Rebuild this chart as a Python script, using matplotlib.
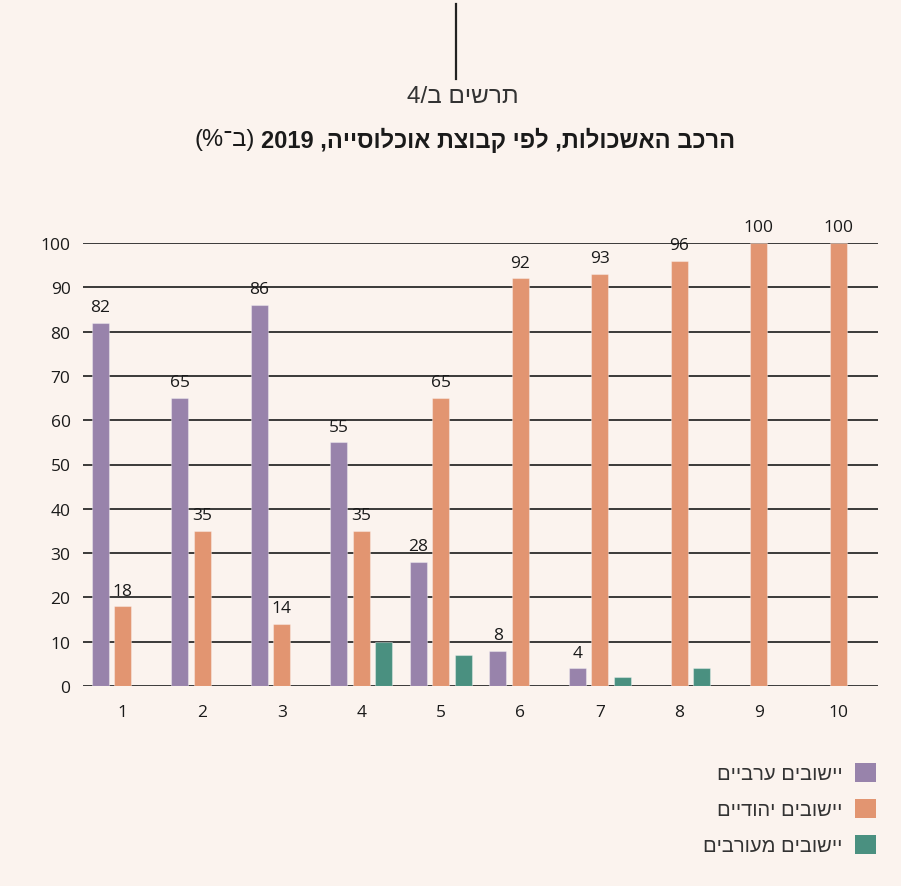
import re
import numpy as np
import matplotlib
matplotlib.use("Agg")
import matplotlib.pyplot as plt
from matplotlib.patches import Patch

# data
groups = [1, 2, 3, 4, 5, 6, 7, 8, 9, 10]
arab = [82, 65, 86, 55, 28, 8, 4, 0, 0, 0]
jewish = [18, 35, 14, 35, 65, 92, 93, 96, 100, 100]
mixed = [0, 0, 0, 10, 7, 0, 2, 4, 0, 0]
series_names = ["יישובים ערביים", "יישובים יהודיים", "יישובים מעורבים"]
yticks = [0, 10, 20, 30, 40, 50, 60, 70, 80, 90, 100]

title_bold = "הרכב האשכולות, לפי קבוצת אוכלוסייה, 2019"
title_unit = "(ב־%)"
subtitle = "תרשים ב/4"

BG = "#fbf3ee"
colors = ["#9883ab", "#e29571", "#4a9080"]
HEB = ["Liberation Sans", "DejaVu Sans"]
NUM = ["Open Sans", "DejaVu Sans"]


def rtl(s):
    # visual order for matplotlib (no bidi support)
    v = s[::-1]
    v = re.sub(r"[0-9]+", lambda m: m.group(0)[::-1], v)
    return v.translate(str.maketrans("()", ")("))


fig = plt.figure(figsize=(9.01, 8.87), dpi=100, facecolor=BG)
W, H = 901, 887
ax = fig.add_axes([83 / W, 1 - 687 / H, 795 / W, 443 / H])
ax.set_facecolor(BG)

x = np.array(groups)
bw = 0.214
off = 0.283
for vals, c, d in zip([arab, jewish, mixed], colors, [-off, 0, off]):
    bars = ax.bar(x + d, vals, width=bw, color=c, zorder=3,
                  edgecolor=(1, 1, 1, 0.35), linewidth=0.8)
    if c != colors[2]:
        for b, v in zip(bars, vals):
            if v > 0:
                ax.annotate(str(v), (b.get_x() + b.get_width() / 2, v),
                            xytext=(0, 5.5), textcoords="offset points",
                            ha="center", va="bottom", fontsize=12.5,
                            family=NUM, color="#1a1a1a", annotation_clip=False)

ax.set_xlim(0.5, 10.5)
ax.set_ylim(0, 100)
ax.set_yticks(yticks)
ax.set_xticks(groups)
ax.grid(axis="y", color="#2b2b2b", linewidth=1.3, zorder=1)
ax.tick_params(length=0, labelsize=12.5, colors="#1a1a1a")
ax.tick_params(axis="x", pad=13)
ax.tick_params(axis="y", pad=9)
for lab in ax.get_xticklabels() + ax.get_yticklabels():
    lab.set_family(NUM)
for s in ax.spines.values():
    s.set_visible(False)

# header
fig.add_artist(plt.Line2D([456 / W, 456 / W], [1 - 5 / H, 1 - 80 / H],
                          color="#222222", linewidth=1.6))
fig.text(463 / W, 1 - 97 / H, rtl(subtitle), ha="center", va="center",
         fontsize=17.5, family=HEB, color="#333333", fontweight="light")

tb = fig.text(735 / W, 1 - 140 / H, rtl(title_bold), ha="right", va="center",
              fontsize=17, family=HEB, fontweight="bold", color="#1a1a1a")
fig.canvas.draw()
bb = tb.get_window_extent()
fig.text((bb.x0 - 6) / W, 1 - 140 / H, rtl(title_unit), ha="right", va="center",
         fontsize=17, family=HEB, color="#1a1a1a")

handles = [Patch(facecolor=c) for c in colors]
fig.legend(handles, [rtl(n) for n in series_names], loc="upper right",
           bbox_to_anchor=(894 / W, 1 - 746 / H), frameon=False,
           markerfirst=False, handlelength=1.05,
           handleheight=1.05, handletextpad=0.6, labelspacing=0.78,
           prop={"family": HEB, "size": 14.5}, labelcolor="#333333")

fig.savefig("out.png", dpi=100, facecolor=BG)
